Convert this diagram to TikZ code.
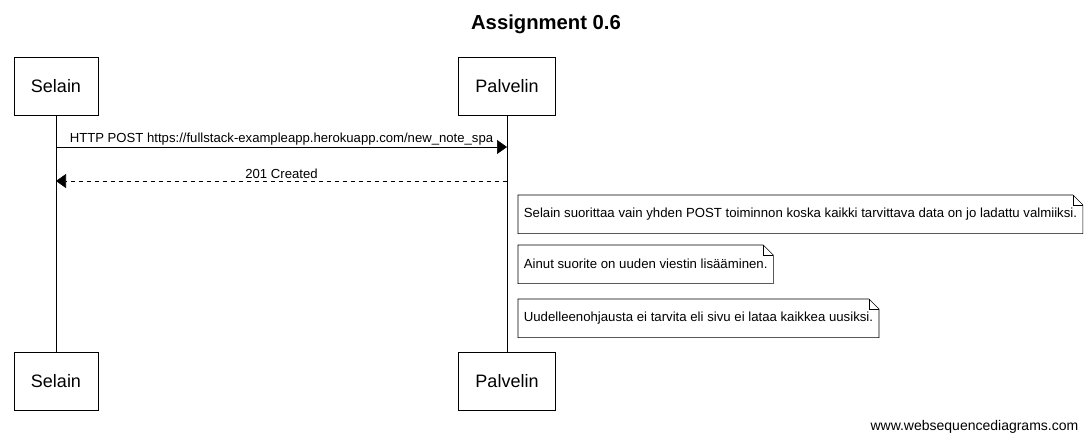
\documentclass[tikz,border=0pt]{standalone}
\usepackage{fontspec}
\setmainfont{Liberation Sans}
\usetikzlibrary{arrows.meta,calc}

\begin{document}
\begin{tikzpicture}[x=0.75pt,y=-0.75pt,
  actor/.style={draw,fill=white,minimum height=43.5pt,inner xsep=12.6pt,font=\fontsize{13.5}{16}\selectfont},
  msg/.style={-{Triangle[length=7.5pt,width=10.5pt]}},
  reply/.style={msg,dashed},
  lbl/.style={font=\fontsize{9.85}{12}\selectfont,inner sep=1pt},
  note/.style={anchor=north west,minimum height=28.5pt,inner xsep=4.2pt,font=\fontsize{9.9}{12}\selectfont}]
  \useasboundingbox (0,0) rectangle (1091,443);
  \node[font=\bfseries\fontsize{15.2}{18}\selectfont] (title) at (546,24) {Assignment 0.6};

  % osallistujat ja elämänviivat
  \node[actor] (selA) at (56,86) {Selain};
  \node[actor] (palA) at (507,86) {Palvelin};
  \node[actor] (selB) at (56,381) {Selain};
  \node[actor] (palB) at (507,381) {Palvelin};
  \draw (selA) -- (selB);
  \draw (palA) -- (palB);

  % viestit
  \coordinate (m1s) at (selA |- 0,147);
  \coordinate (m1p) at (palA |- 0,147);
  \coordinate (m2s) at (selA |- 0,181);
  \coordinate (m2p) at (palA |- 0,181);
  \draw[msg] (m1s) -- (m1p) node[lbl,midway,above=0.5pt] {HTTP POST https://fullstack-exampleapp.herokuapp.com/new\_note\_spa};
  \draw[reply] (m2p) -- (m2s) node[lbl,midway,above=0.5pt] {201 Created};

  % muistiinpanot
  \node[note] (n1) at (518,195) {Selain suorittaa vain yhden POST toiminnon koska kaikki tarvittava data on jo ladattu valmiiksi.};
  \node[note] (n2) at (518,245) {Ainut suorite on uuden viestin lisääminen.};
  \node[note] (n3) at (518,299) {Uudelleenohjausta ei tarvita eli sivu ei lataa kaikkea uusiksi.};
  \foreach \n in {n1,n2,n3} {
    \draw (\n.south west) -- (\n.north west) -- ($(\n.north east)+(-10,0)$)
      -- ($(\n.north east)+(0,10)$) -- (\n.south east) -- cycle;
    \draw ($(\n.north east)+(-10,0)$) -- ($(\n.north east)+(-10,10)$) -- ($(\n.north east)+(0,10)$);
  }

  \node[anchor=east,font=\fontsize{10.5}{12}\selectfont] (wsd) at (1083,427) {www.websequencediagrams.com};
\end{tikzpicture}
\end{document}
